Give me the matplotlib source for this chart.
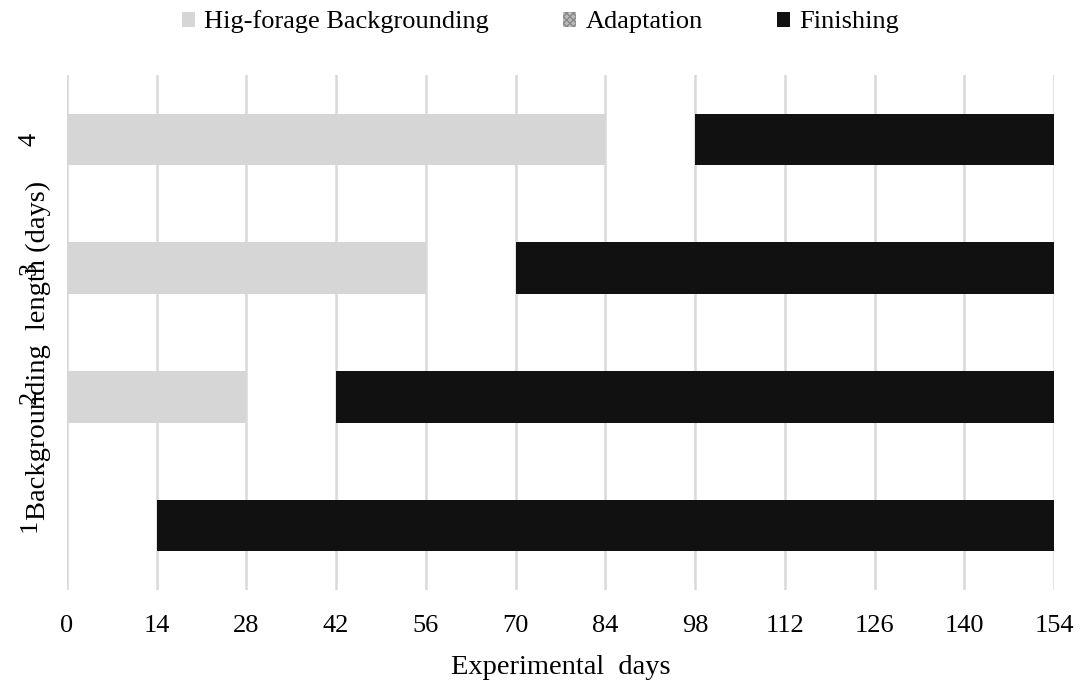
import matplotlib
matplotlib.use("Agg")
import matplotlib.pyplot as plt
from matplotlib.patches import Patch

categories = ["1", "2", "3", "4"]
backgrounding = [0, 28, 56, 84]
adaptation = [14, 14, 14, 14]
finishing = [140, 112, 84, 56]
xticks = [0, 14, 28, 42, 56, 70, 84, 98, 112, 126, 140, 154]

plt.rcParams['font.family'] = ['Liberation Serif', 'DejaVu Serif']
FS = 19
FL = 20.5

fig = plt.figure(figsize=(10.83, 6.8), dpi=100)
ax = fig.add_axes([67/1083, 1-590/680, (1054-67)/1083, (590-75)/680])

y = list(range(len(categories)))
h = 0.4
c_bg = '#d6d6d6'
c_fin = '#111111'
ax.barh(y, backgrounding, height=h, color=c_bg, zorder=3)
ax.barh(y, adaptation, left=backgrounding, height=h, facecolor='none', edgecolor='none', zorder=3)
left3 = [a + b for a, b in zip(backgrounding, adaptation)]
ax.barh(y, finishing, left=left3, height=h, color=c_fin, zorder=3)

ax.set_xlim(0, 154)
ax.set_ylim(-0.5, 3.5)
ax.set_xticks(xticks)
ax.set_xticklabels([str(t) for t in xticks], fontsize=FS)
ax.set_yticks(y)
ax.set_yticklabels(categories, fontsize=FS, rotation=90, va='center')
ax.tick_params(axis='both', length=0)
ax.tick_params(axis='x', pad=18)
ax.tick_params(axis='y', pad=19)
ax.grid(axis='x', color='#d9d9d9', linewidth=1.8, zorder=0)
for s in ax.spines.values():
    s.set_visible(False)

ax.set_xlabel("Experimental  days", fontsize=FL, labelpad=13)
fig.text(38/1083, 1-350/680, "Backgrounding  length (days)", rotation=90,
         ha='center', va='center', fontsize=FL)

handles = [Patch(facecolor=c_bg, edgecolor='none', label='Hig-forage Backgrounding'),
           Patch(facecolor='#bbbbbb', edgecolor='#888888', hatch='xxxxx', linewidth=0, label='Adaptation'),
           Patch(facecolor=c_fin, edgecolor='none', label='Finishing')]
fig.legend(handles=handles, loc='center', bbox_to_anchor=(0.499, 1-22/680), ncol=3,
           frameon=False, fontsize=FS, handlelength=0.5, handleheight=0.5,
           handletextpad=0.35, columnspacing=2.8)

fig.savefig("out.png", dpi=100)
